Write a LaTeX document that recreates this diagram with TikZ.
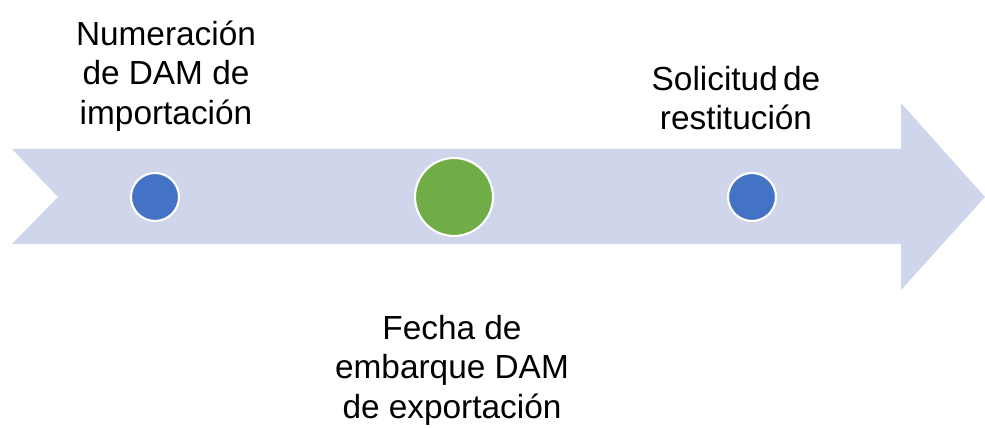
\documentclass[tikz,border=0pt]{standalone}
\usepackage{fontspec}
\setmainfont{Liberation Sans}
\usepackage{tikz}

\definecolor{flecha}{RGB}{207,213,234}
\definecolor{azul}{RGB}{68,114,196}
\definecolor{verde}{RGB}{112,173,71}

\tikzset{
  hito/.style={circle,draw=white,line width=1.2pt,inner sep=0pt},
  texto/.style={align=center,font=\fontsize{19}{22.5}\selectfont}
}

\begin{document}
\begin{tikzpicture}[x=0.02cm,y=0.02cm]
			\useasboundingbox (0,0) rectangle (985,428);

			% Flecha de la línea de tiempo
			\fill[flecha] (12,279) -- (901,279) -- (901,325) -- (985,231)
				-- (901,138) -- (901,184) -- (12,184) -- (58,231) -- cycle;

			% Hitos
			\node at (155,231) [hito,fill=azul,minimum size=0.96cm] (imp) {};
			\node at (454,231) [hito,fill=verde,minimum size=1.56cm] (emb) {};
			\node at (752,231) [hito,fill=azul,minimum size=0.96cm] (sol) {};

			% Textos
			\node at (166,352) [texto] (timp) {Numeración\\de DAM de\\importación};
			\node at (452,58) [texto] (temb) {Fecha de\\embarque DAM\\de exportación};
			\node at (736,330) [texto] (tsol) {Solicitud\hspace{-0.12em} de\\restitución};
		\end{tikzpicture}
\end{document}
